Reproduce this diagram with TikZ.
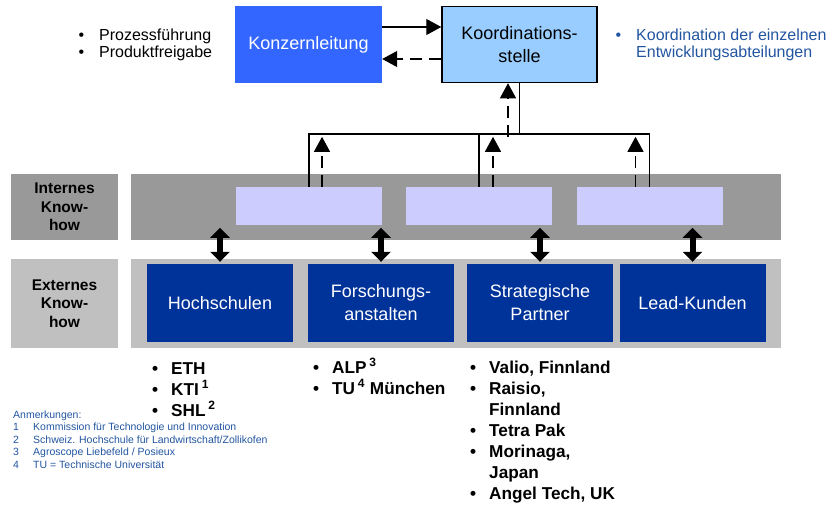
\documentclass[tikz,border=0pt]{standalone}
\usepackage{fontspec}
\setmainfont{Liberation Sans}
\usetikzlibrary{arrows.meta}

\definecolor{konzernblau}{RGB}{51,102,255}
\definecolor{koordblau}{RGB}{153,204,255}
\definecolor{dunkelblau}{RGB}{0,51,153}
\definecolor{hellviolett}{RGB}{204,204,255}
\definecolor{grau}{RGB}{153,153,153}
\definecolor{hellgrau}{RGB}{192,192,192}
\definecolor{textblau}{RGB}{34,85,160}

\tikzset{
  box/.style={inner sep=0pt, align=center, font=\fontsize{18}{23}\selectfont},
  konzern/.style={box, fill=konzernblau, text=white, minimum width=147pt, minimum height=77pt},
  koord/.style={box, fill=koordblau, draw=black, line width=1.5pt, minimum width=155pt, minimum height=76pt},
  partner/.style={box, fill=dunkelblau, text=white, minimum width=146pt, minimum height=78pt},
  intern/.style={fill=hellviolett, minimum width=146pt, minimum height=38pt, inner sep=0pt},
  band/.style={inner sep=0pt, minimum width=650pt},
  knowhow/.style={inner sep=0pt, align=center, minimum width=107pt,
    font=\fontsize{15.5}{18.5}\selectfont\bfseries},
  pfeil/.style={line width=1.2pt, -{Triangle[width=16pt,length=15pt]}},
  strich/.style={pfeil, dash pattern=on 12pt off 7pt},
  doppel/.style={line width=6pt, {Triangle[width=19pt,length=10pt]}-{Triangle[width=19pt,length=10pt]}},
  % base = Grundlinie der letzten Zeile
  liste/.style={anchor=base west, inner sep=0pt, align=left,
    font=\fontsize{17.2}{21}\selectfont\bfseries},
  notiz/.style={anchor=base west, inner sep=0pt, align=left, text=textblau},
}
\newcommand{\punkt}{\llap{\textbullet\hspace{13pt}}}
\newcommand{\kpunkt}{\llap{\textbullet\hspace{15pt}}}

\begin{document}
\begin{tikzpicture}[x=1pt,y=-1pt]
\useasboundingbox (0,0) rectangle (829,506);

% Leitung
\draw (308.5,44.5) node (kl) [konzern] {Konzernleitung};
\draw (519.5,44.5) node (ks) [koord]   {Koordinations-\\stelle};
\draw ([yshift=17.5pt]kl.east) edge[pfeil]  ([yshift=17.5pt]ks.west);
\draw ([yshift=-14.5pt]ks.west) edge[strich] ([yshift=-14.5pt]kl.east);

\draw (99,57.5) node (ziele) [notiz, text=black, font=\fontsize{16}{17.5}\selectfont]
  {\kpunkt Prozessf\"uhrung\\\kpunkt Produktfreigabe};
\draw (636,57.5) node (aufgabe) [notiz, font=\fontsize{16}{17.5}\selectfont]
  {\kpunkt Koordination der einzelnen\\Entwicklungsabteilungen};

% Internes Know-how
\draw (64.5,207) node (lint) [knowhow, fill=grau, minimum height=66pt] {Internes\\Know-\\how};
\draw (456,207)  node (bint) [band, fill=grau, minimum height=66pt] {};
\draw (309,206)   node (i1) [intern] {};
\draw (479,206)   node (i2) [intern] {};
\draw (649.5,206) node (i3) [intern] {};

% Externes Know-how
\draw (64.5,303.5) node (lext) [knowhow, fill=hellgrau, minimum height=89pt] {Externes\\Know-\\how};
\draw (456,303.5)  node (bext) [band, fill=hellgrau, minimum height=89pt] {};
\draw (220,303)   node (p1) [partner] {Hochschulen};
\draw (381,303)   node (p2) [partner] {Forschungs-\\anstalten};
\draw (540,303)   node (p3) [partner] {Strategische\\Partner};
\draw (692.5,303) node (p4) [partner] {Lead-Kunden};

% Verbindungen
\coordinate (knoten) at (519.5,134);
\coordinate (rueck) at (508,137);
\draw[line width=1.2pt] (ks.south) -- (knoten);
\draw[line width=1.2pt] (i1.north) |- (i3.north |- knoten) -- (i3.north);
\draw[line width=1.2pt] (i2.north) -- (i2.north |- knoten);
\draw[strich] ([xshift=13pt]i1.north) -- ++(0,-50);
\draw[strich] ([xshift=14pt]i2.north) -- ++(0,-50);
\draw[strich] ([xshift=-14pt]i3.north) -- ++(0,-50);
\draw[strich] (rueck) -- (rueck |- ks.south);

\foreach \p in {p1,p2,p3,p4}
  \draw[doppel] ([yshift=2pt]\p.north) -- ([yshift=36pt]\p.north);

% Partnerlisten
\draw (171,416) node (hs) [liste]
  {\punkt ETH\\\punkt KTI\,\textsuperscript{1}\\\punkt SHL\,\textsuperscript{2}};
\draw (332,394) node (fa) [liste]
  {\punkt ALP\,\textsuperscript{3}\\\punkt TU\,\textsuperscript{4} M\"unchen};
\draw (489,499) node (sp) [liste]
  {\punkt Valio, Finnland\\\punkt Raisio,\\Finnland\\\punkt Tetra Pak\\\punkt Morinaga,\\Japan\\\punkt Angel Tech, UK};

% Anmerkungen
\draw (13,468) node (anm) [notiz, font=\fontsize{10.5}{12.5}\selectfont]
  {Anmerkungen:\\
   \makebox[20pt][l]{1}Kommission f\"ur Technologie und Innovation\\
   \makebox[20pt][l]{2}Schweiz. Hochschule f\"ur Landwirtschaft/Zollikofen\\
   \makebox[20pt][l]{3}Agroscope Liebefeld / Posieux\\
   \makebox[20pt][l]{4}TU = Technische Universit\"at};
\end{tikzpicture}
\end{document}
